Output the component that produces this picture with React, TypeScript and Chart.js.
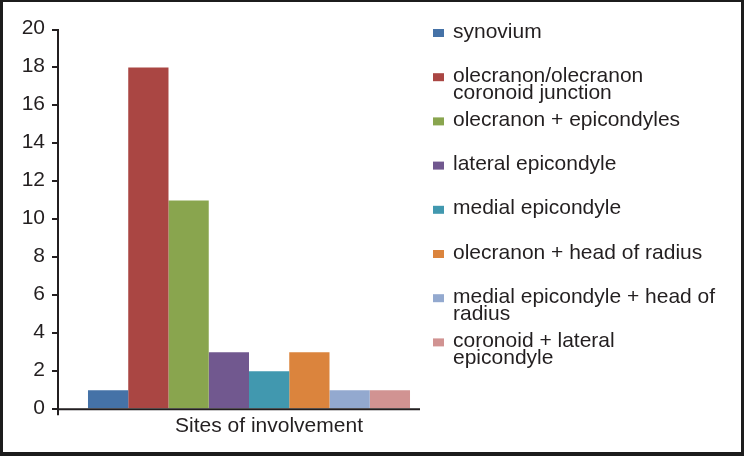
import React, { useEffect, useRef } from "react";
import { Chart, registerables } from "chart.js";

Chart.register(...registerables);

const categories = ["Sites of involvement"];
const seriesNames: string[][] = [
  ["synovium"],
  ["olecranon/olecranon", "coronoid junction"],
  ["olecranon + epicondyles"],
  ["lateral epicondyle"],
  ["medial epicondyle"],
  ["olecranon + head of radius"],
  ["medial epicondyle + head of", "radius"],
  ["coronoid + lateral", "epicondyle"],
];
const seriesValues = [1, 18, 11, 3, 2, 3, 1, 1];
const seriesColors = [
  "#4572A7",
  "#AA4643",
  "#89A54E",
  "#71588F",
  "#4198AF",
  "#DB843D",
  "#93A9CF",
  "#D19392",
];
const yMin = 0;
const yMax = 20;
const yStep = 2;

const FONT = '"Liberation Sans", Arial, sans-serif';
const TEXT = "#231f20";

const framePlugin = {
  id: "frame",
  beforeDraw(chart: any) {
    const { ctx, width, height } = chart;
    ctx.save();
    ctx.fillStyle = "#ffffff";
    ctx.fillRect(0, 0, width, height);
    ctx.restore();
  },
  afterDraw(chart: any) {
    const { ctx, width, height, chartArea } = chart;
    ctx.save();
    // outer frame
    ctx.fillStyle = "#1c1c1c";
    ctx.fillRect(0, 0, width, 2);
    ctx.fillRect(0, 0, 3, height);
    ctx.fillRect(width - 3, 0, 3, height);
    ctx.fillRect(0, height - 4, width, 4);
    // x axis line
    ctx.strokeStyle = TEXT;
    ctx.lineWidth = 2;
    ctx.beginPath();
    ctx.moveTo(chartArea.left - 1, chartArea.bottom);
    ctx.lineTo(420, chartArea.bottom);
    ctx.moveTo(chartArea.left, chartArea.bottom);
    ctx.lineTo(chartArea.left, chartArea.bottom + 6);
    ctx.stroke();
    // legend
    ctx.font = "21px " + FONT;
    ctx.textBaseline = "alphabetic";
    ctx.textAlign = "left";
    seriesNames.forEach((lines, i) => {
      const base = 37.5 + i * 44.2;
      ctx.fillStyle = seriesColors[i];
      ctx.fillRect(433, base - 8.5, 11, 8);
      ctx.fillStyle = TEXT;
      lines.forEach((l, j) => ctx.fillText(l, 453, base + j * 17.5));
    });
    ctx.restore();
  },
};

export default function App() {
  const ref = useRef<HTMLCanvasElement>(null);
  useEffect(() => {
    if (!ref.current) return;
    const chart = new Chart(ref.current, {
      type: "bar",
      data: {
        labels: categories,
        datasets: seriesNames.map((n, i) => ({
          label: n.join(" "),
          data: [seriesValues[i]],
          backgroundColor: seriesColors[i],
          borderWidth: 0,
          categoryPercentage: 0.843,
          barPercentage: 1,
        })),
      },
      options: {
        responsive: false,
        animation: false,
        layout: { padding: { left: 0, top: 29.5, right: 304, bottom: 0 } },
        plugins: { legend: { display: false }, tooltip: { enabled: false } },
        scales: {
          x: {
            grid: { display: false, drawTicks: false },
            border: { display: false },
            ticks: {
              color: TEXT,
              font: { family: FONT, size: 21 },
              padding: 4,
              labelOffset: 20,
              maxRotation: 0,
            },
            afterFit: (s: any) => {
              s.height = 456 - 409.3;
            },
          },
          y: {
            min: yMin,
            max: yMax,
            ticks: {
              stepSize: yStep,
              color: TEXT,
              font: { family: FONT, size: 21 },
              padding: 7,
              labelOffset: -1,
            },
            grid: {
              display: true,
              drawOnChartArea: false,
              drawTicks: true,
              tickLength: 6,
              color: TEXT,
              lineWidth: 2,
            },
            border: { display: true, color: TEXT, width: 2 },
            afterFit: (s: any) => {
              s.width = 58;
            },
          },
        },
      },
      plugins: [framePlugin],
    });
    return () => chart.destroy();
  }, []);
  return (
    <div style={{ position: "absolute", left: 0, top: 0, width: 744, height: 456 }}>
      <canvas ref={ref} width={744} height={456} style={{ display: "block" }} />
    </div>
  );
}
